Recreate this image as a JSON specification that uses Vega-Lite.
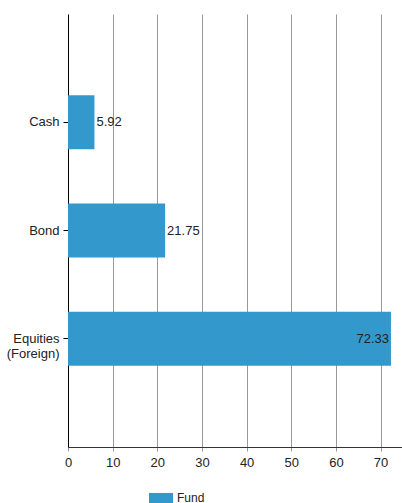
{
  "$schema": "https://vega.github.io/schema/vega-lite/v6.json",
  "autosize": "none",
  "padding": {"left": 68, "top": 14, "right": 0, "bottom": 56},
  "width": 334,
  "height": 433,
  "background": "white",
  "config": {
    "view": {"stroke": null},
    "font": "Liberation Sans",
    "axis": {"labelFont": "Liberation Sans", "labelFontSize": 13, "labelColor": "#222222"}
  },
  "data": {
    "values": [
      {"category": "Cash", "value": 5.92, "series": "Fund"},
      {"category": "Bond", "value": 21.75, "series": "Fund"},
      {"category": "Equities (Foreign)", "value": 72.33, "series": "Fund"}
    ]
  },
  "encoding": {
    "y": {
      "field": "category",
      "type": "nominal",
      "sort": null,
      "scale": {"paddingInner": 0.5, "paddingOuter": 0.75},
      "axis": {
        "title": null,
        "domainColor": "#000000",
        "tickColor": "#000000",
        "tickSize": 5,
        "labelPadding": 4,
        "labelLimit": 0,
        "labelExpr": "datum.label == 'Equities (Foreign)' ? ['Equities', '(Foreign)'] : datum.label"
      }
    },
    "x": {
      "field": "value",
      "type": "quantitative",
      "scale": {"domain": [0, 74.8], "nice": false, "zero": true},
      "axis": {
        "title": null,
        "values": [0, 10, 20, 30, 40, 50, 60, 70],
        "grid": true,
        "gridColor": "#999999",
        "gridOpacity": 1,
        "domainColor": "#333333",
        "tickColor": "#999999",
        "tickSize": 4,
        "labelPadding": 5,
        "labelFlush": false
      }
    }
  },
  "layer": [
    {
      "mark": {"type": "bar", "color": "#3399cc"},
      "encoding": {
        "color": {
          "field": "series",
          "type": "nominal",
          "scale": {"range": ["#3399cc"]},
          "legend": {
            "title": null,
            "orient": "none",
            "legendX": 81,
            "legendY": 472,
            "symbolType": "M-1,-0.42H1V0.42H-1Z",
            "symbolSize": 576,
            "symbolStrokeWidth": 0,
            "labelFont": "Liberation Sans",
            "labelFontSize": 12,
            "labelColor": "#222222",
            "labelOffset": 4
          }
        }
      }
    },
    {
      "transform": [{"filter": "datum.value < 50"}],
      "mark": {"type": "text", "align": "left", "baseline": "middle", "dx": 2, "fontSize": 13, "color": "#222222", "font": "Liberation Sans"},
      "encoding": {"text": {"field": "value", "type": "quantitative", "format": ".2f"}}
    },
    {
      "transform": [{"filter": "datum.value >= 50"}],
      "mark": {"type": "text", "align": "right", "baseline": "middle", "dx": -2, "fontSize": 13, "color": "#222222", "font": "Liberation Sans"},
      "encoding": {"text": {"field": "value", "type": "quantitative", "format": ".2f"}}
    }
  ]
}
